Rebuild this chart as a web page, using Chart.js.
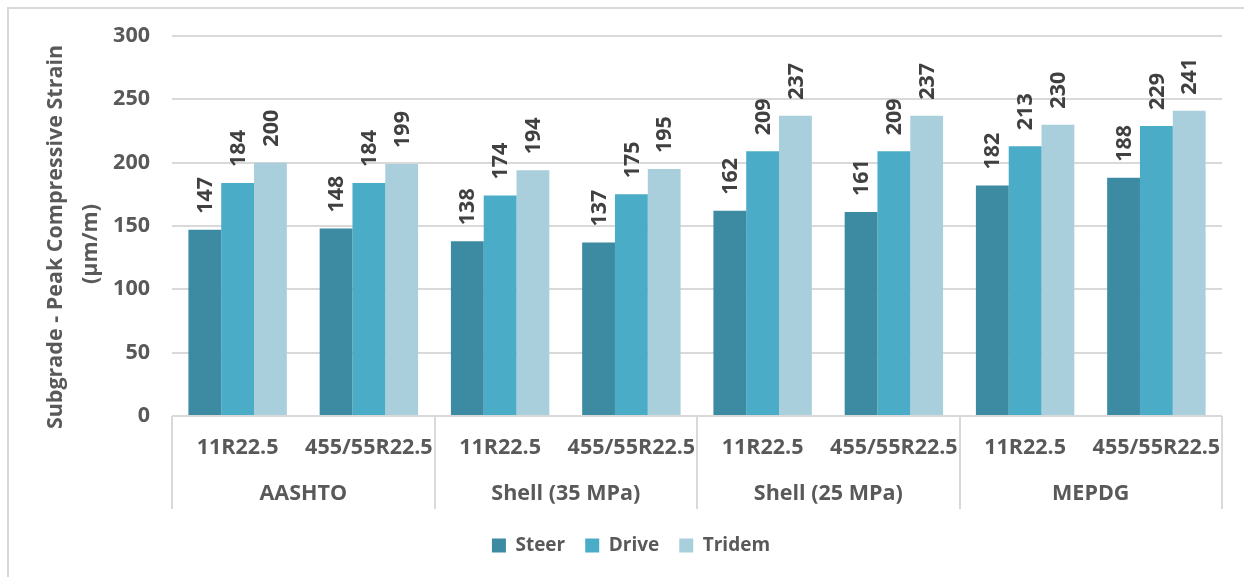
<!DOCTYPE html>
<html>
<head>
<meta charset="utf-8">
<script src="https://cdn.jsdelivr.net/npm/chart.js@4.4.1/dist/chart.umd.min.js"></script>
<style>
  body { margin: 0; background: #fff; }
  #wrap { width: 1244px; height: 577px; position: relative; }
</style>
</head>
<body>
<div id="wrap"><canvas id="strainChart"></canvas></div>
<script>
const tires = ["11R22.5", "455/55R22.5", "11R22.5", "455/55R22.5", "11R22.5", "455/55R22.5", "11R22.5", "455/55R22.5"];
const methods = ["AASHTO", "Shell (35 MPa)", "Shell (25 MPa)", "MEPDG"];
const steer = [147, 148, 138, 137, 162, 161, 182, 188];
const drive = [184, 184, 174, 175, 209, 209, 213, 229];
const tridem = [200, 199, 194, 195, 237, 237, 230, 241];

const textGrey = '#595959';
const FONT = "'Open Sans', sans-serif";
const SIZE = 21.5;

// border, axis title, two-row category labels and value labels
const extras = {
  id: 'extras',
  afterLayout(chart) {
    // nudge legend a bit right of the canvas centre
    chart.legend.left += 20;
    chart.legend.right += 20;
  },
  beforeDraw(chart) {
    const ctx = chart.ctx;
    ctx.save();
    ctx.strokeStyle = '#d9d9d9';
    ctx.lineWidth = 2;
    ctx.strokeRect(8, 8, 1400, 800);
    ctx.restore();
  },
  afterDraw(chart) {
    const ctx = chart.ctx;
    const x = chart.scales.x;
    const area = chart.chartArea;
    ctx.save();

    // y title
    ctx.fillStyle = textGrey;
    ctx.font = 'bold ' + SIZE + 'px ' + FONT;
    ctx.textAlign = 'center';
    ctx.textBaseline = 'middle';
    ctx.save();
    ctx.translate(56, 237);
    ctx.rotate(-Math.PI / 2);
    ctx.fillText('Subgrade - Peak Compressive Strain', 0, 0);
    ctx.restore();
    ctx.save();
    ctx.translate(91, 244);
    ctx.rotate(-Math.PI / 2);
    ctx.fillText('(µm/m)', 0, 0);
    ctx.restore();

    // category rows
    const step = x.getPixelForValue(1) - x.getPixelForValue(0);
    tires.forEach((t, i) => {
      ctx.fillText(t, x.getPixelForValue(i), area.bottom + 32);
    });
    methods.forEach((m, k) => {
      const cx = (x.getPixelForValue(2 * k) + x.getPixelForValue(2 * k + 1)) / 2;
      ctx.fillText(m, cx, area.bottom + 78);
    });
    ctx.strokeStyle = '#d9d9d9';
    ctx.lineWidth = 2;
    for (let k = 0; k <= methods.length; k++) {
      const sx = Math.round(x.getPixelForValue(2 * k) - step / 2);
      ctx.beginPath();
      ctx.moveTo(sx, area.bottom);
      ctx.lineTo(sx, area.bottom + 93);
      ctx.stroke();
    }

    // value labels
    ctx.fillStyle = '#404040';
    ctx.textAlign = 'left';
    chart.data.datasets.forEach((ds, di) => {
      chart.getDatasetMeta(di).data.forEach((bar, i) => {
        ctx.save();
        ctx.translate(bar.x, bar.y - 16);
        ctx.rotate(-Math.PI / 2);
        ctx.fillText(String(ds.data[i]), 0, 1);
        ctx.restore();
      });
    });
    ctx.restore();
  }
};

new Chart(document.getElementById('strainChart'), {
  type: 'bar',
  data: {
    labels: tires,
    datasets: [
      { label: 'Steer', data: steer, backgroundColor: '#3c8ba3' },
      { label: 'Drive', data: drive, backgroundColor: '#4aacc6' },
      { label: 'Tridem', data: tridem, backgroundColor: '#a9cfdc' }
    ]
  },
  options: {
    responsive: true,
    maintainAspectRatio: false,
    animation: false,
    layout: { padding: { left: 0, right: 22, top: 36, bottom: 12 } },
    datasets: { bar: { categoryPercentage: 0.75, barPercentage: 1.0 } },
    plugins: {
      legend: {
        position: 'bottom',
        labels: {
          boxWidth: 14,
          boxHeight: 14,
          padding: 20,
          color: textGrey,
          font: { family: FONT, size: 19, weight: 'bold' }
        }
      },
      tooltip: { enabled: false }
    },
    scales: {
      x: {
        grid: { display: false, drawTicks: false },
        border: { display: false },
        ticks: { display: false },
        afterFit(scale) { scale.height = 100; }
      },
      y: {
        min: 0,
        max: 300,
        grid: { color: '#d9d9d9', lineWidth: 2, drawTicks: false },
        border: { display: false },
        ticks: {
          stepSize: 50,
          padding: 22,
          color: textGrey,
          font: { family: FONT, size: SIZE, weight: 'bold' }
        },
        afterFit(scale) { scale.width = 172; }
      }
    }
  },
  plugins: [extras]
});
</script>
</body>
</html>
